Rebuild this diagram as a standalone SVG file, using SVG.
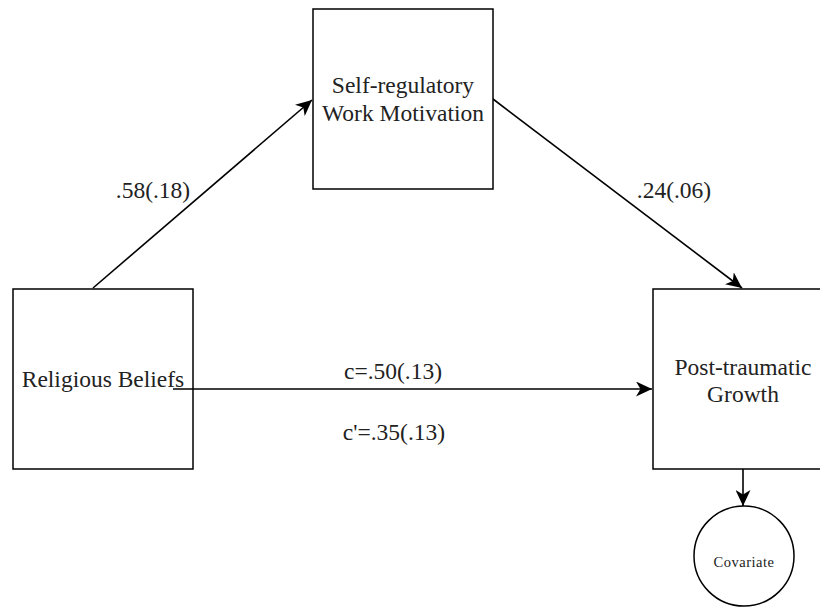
<svg xmlns="http://www.w3.org/2000/svg" width="820" height="609" viewBox="0 0 820 609">
<defs>
<marker id="arr" markerUnits="userSpaceOnUse" markerWidth="17" markerHeight="15" viewBox="0 0 17 15" refX="16" refY="7.5" orient="auto">
<path d="M0,0 L16,7.5 L0,15 L4.5,7.5 z" fill="#000"/>
</marker>
</defs>
<rect width="820" height="609" fill="#fff"/>
<g id="connectors" stroke="#000" stroke-width="1.6" fill="none" marker-end="url(#arr)">
<line x1="93" y1="288" x2="312" y2="100"/>
<line x1="493" y1="99" x2="742" y2="288"/>
<line x1="173" y1="389" x2="652" y2="389"/>
<line x1="743" y1="469" x2="743" y2="506"/>
</g>
<g font-family="Liberation Serif, Times New Roman, serif" font-size="23.5" fill="#222" text-anchor="middle">
<g id="node-selfreg">
<rect x="313" y="9" width="180" height="180" fill="#fff" stroke="#000" stroke-width="1.5"/>
<text x="403" y="93">Self-regulatory</text>
<text x="403" y="121">Work Motivation</text>
</g>
<g id="node-religious">
<rect x="13" y="289" width="180" height="180" fill="none" stroke="#000" stroke-width="1.5"/>
<text x="103" y="387">Religious Beliefs</text>
</g>
<g id="node-ptg">
<rect x="653" y="289" width="180" height="180" fill="#fff" stroke="#000" stroke-width="1.5"/>
<text x="743" y="375">Post-traumatic</text>
<text x="743" y="402">Growth</text>
</g>
<g id="node-covariate">
<circle cx="744" cy="556" r="50" fill="#fff" stroke="#000" stroke-width="1.5"/>
<text x="744" y="567" font-size="14.5" letter-spacing="0.5">Covariate</text>
</g>
<g id="labels">
<text x="153" y="198">.58(.18)</text>
<text x="674" y="198">.24(.06)</text>
<text x="393" y="379">c=.50(.13)</text>
<text x="394" y="440">c'=.35(.13)</text>
</g>
</g>
</svg>
